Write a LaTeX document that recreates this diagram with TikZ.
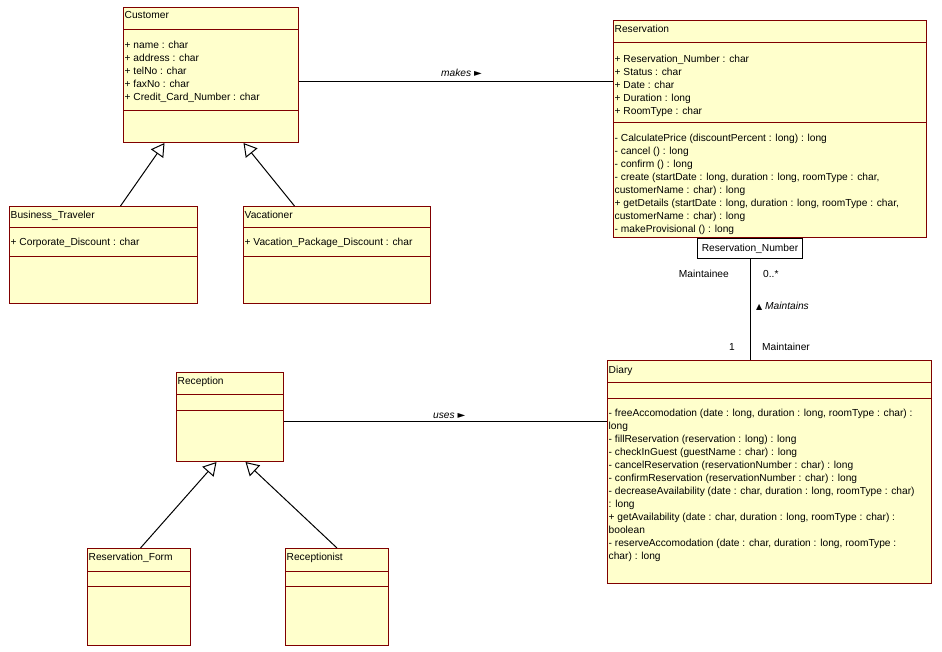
\documentclass[tikz,border=0pt]{standalone}
\usepackage{fontspec}
\setmainfont{Liberation Sans}
\newfontfamily\symbolfont{DejaVu Sans}
\usetikzlibrary{arrows.meta,positioning,calc}
\definecolor{umlyellow}{RGB}{255,255,204}
\definecolor{umlmaroon}{RGB}{128,0,0}

\begin{document}
\begin{tikzpicture}[
  x=1pt, y=-1pt,
  font=\fontsize{10.2}{13}\selectfont,
  classbox/.style={rectangle, draw=umlmaroon, fill=umlyellow, line width=1pt, anchor=north west, inner sep=0pt},
  sepline/.style={draw=umlmaroon, line width=1pt},
  classname/.style={anchor=base west, inner sep=0pt},
  members/.style={anchor=north west, inner sep=0pt, align=left},
  qualbox/.style={rectangle, draw=black, fill=white, line width=1pt, minimum width=105pt, minimum height=20pt, inner sep=0pt},
  assoc/.style={draw=black, line width=1pt},
  inherit/.style={-{Triangle[open, length=13pt, width=15pt]}, line width=1pt},
  rolelabel/.style={inner sep=0pt},
  assoclabel/.style={anchor=base west, inner sep=0pt, font=\fontsize{10.2}{13}\selectfont\itshape}
]
\useasboundingbox (0,0) rectangle (942,652);

% Class - Customer
\node[classbox, minimum width=175pt, minimum height=135pt] (customer) at (123,7) {};
\draw[sepline] ([yshift=-23pt]customer.north west) -- ([yshift=-23pt]customer.north east);
\draw[sepline] ([yshift=-104pt]customer.north west) -- ([yshift=-104pt]customer.north east);
\node[classname] (customer-name) at ([xshift=1.5pt, yshift=-12pt]customer.north west) {Customer};
\node[members] (customer-attr) at ([xshift=1.5pt, yshift=-31.9pt]customer.north west) {\strut+ name : char\\+ address : char\\+ telNo : char\\+ faxNo : char\\+ Credit\_Card\_Number : char};

% Class - Business_Traveler
\node[classbox, minimum width=188pt, minimum height=97pt] (traveler) at (9,206) {};
\draw[sepline] ([yshift=-22pt]traveler.north west) -- ([yshift=-22pt]traveler.north east);
\draw[sepline] ([yshift=-51pt]traveler.north west) -- ([yshift=-51pt]traveler.north east);
\node[classname] (traveler-name) at ([xshift=1.5pt, yshift=-12.5pt]traveler.north west) {Business\_Traveler};
\node[classname] (traveler-attr) at ([xshift=1.5pt, yshift=-40pt]traveler.north west) {+ Corporate\_Discount : char};

% Class - Vacationer
\node[classbox, minimum width=187pt, minimum height=97pt] (vacationer) at (243,206) {};
\draw[sepline] ([yshift=-22pt]vacationer.north west) -- ([yshift=-22pt]vacationer.north east);
\draw[sepline] ([yshift=-51pt]vacationer.north west) -- ([yshift=-51pt]vacationer.north east);
\node[classname] (vacationer-name) at ([xshift=1.5pt, yshift=-12.5pt]vacationer.north west) {Vacationer};
\node[classname] (vacationer-attr) at ([xshift=1.5pt, yshift=-40pt]vacationer.north west) {+ Vacation\_Package\_Discount : char};

% Class - Reservation
\node[classbox, minimum width=313pt, minimum height=217pt] (reservation) at (613,20) {};
\draw[sepline] ([yshift=-23pt]reservation.north west) -- ([yshift=-23pt]reservation.north east);
\draw[sepline] ([yshift=-103pt]reservation.north west) -- ([yshift=-103pt]reservation.north east);
\node[classname] (reservation-name) at ([xshift=1.5pt, yshift=-13pt]reservation.north west) {Reservation};
\node[members] (reservation-attr) at ([xshift=1.5pt, yshift=-32.9pt]reservation.north west) {\strut+ Reservation\_Number : char\\+ Status : char\\+ Date : char\\+ Duration : long\\+ RoomType : char};
\node[members] (reservation-ops) at ([xshift=1.5pt, yshift=-112.4pt]reservation.north west) {\strut- CalculatePrice (discountPercent : long) : long\\- cancel () : long\\- confirm () : long\\- create (startDate : long, duration : long, roomType : char,\\customerName : char) : long\\+ getDetails (startDate : long, duration : long, roomType : char,\\customerName : char) : long\\- makeProvisional () : long};

% Qualifier
\node[qualbox, anchor=north] (resnumber) at ([xshift=-20pt]reservation.south) {Reservation\_Number};

% Class - Diary
\node[classbox, minimum width=324pt, minimum height=223pt] (diary) at (607,360) {};
\draw[sepline] ([yshift=-22.5pt]diary.north west) -- ([yshift=-22.5pt]diary.north east);
\draw[sepline] ([yshift=-38pt]diary.north west) -- ([yshift=-38pt]diary.north east);
\node[classname] (diary-name) at ([xshift=1.5pt, yshift=-13pt]diary.north west) {Diary};
\node[members] (diary-ops) at ([xshift=1.5pt, yshift=-47.4pt]diary.north west) {\strut- freeAccomodation (date : long, duration : long, roomType : char) :\\long\\- fillReservation (reservation : long) : long\\- checkInGuest (guestName : char) : long\\- cancelReservation (reservationNumber : char) : long\\- confirmReservation (reservationNumber : char) : long\\- decreaseAvailability (date : char, duration : long, roomType : char)\\: long\\+ getAvailability (date : char, duration : long, roomType : char) :\\boolean\\- reserveAccomodation (date : char, duration : long, roomType :\\char) : long};

% Class - Reception
\node[classbox, minimum width=107pt, minimum height=89pt] (reception) at (176,372) {};
\draw[sepline] ([yshift=-22pt]reception.north west) -- ([yshift=-22pt]reception.north east);
\draw[sepline] ([yshift=-38pt]reception.north west) -- ([yshift=-38pt]reception.north east);
\node[classname] (reception-name) at ([xshift=1.5pt, yshift=-12pt]reception.north west) {Reception};

% Class - Reservation_Form
\node[classbox, minimum width=103pt, minimum height=97pt] (resform) at (87,548) {};
\draw[sepline] ([yshift=-23.5pt]resform.north west) -- ([yshift=-23.5pt]resform.north east);
\draw[sepline] ([yshift=-38.5pt]resform.north west) -- ([yshift=-38.5pt]resform.north east);
\node[classname] (resform-name) at ([xshift=1.5pt, yshift=-12.5pt]resform.north west) {Reservation\_Form};

% Class - Receptionist
\node[classbox, minimum width=103pt, minimum height=97pt] (receptionist) at (285,548) {};
\draw[sepline] ([yshift=-23.5pt]receptionist.north west) -- ([yshift=-23.5pt]receptionist.north east);
\draw[sepline] ([yshift=-38.5pt]receptionist.north west) -- ([yshift=-38.5pt]receptionist.north east);
\node[classname] (receptionist-name) at ([xshift=1.5pt, yshift=-12.5pt]receptionist.north west) {Receptionist};

% Associations
\draw[assoc] ([yshift=-6.5pt]customer.east) -- ([yshift=-6.5pt]customer.east -| reservation.west);
\draw[assoc] ([yshift=-4.5pt]reception.east) -- ([yshift=-4.5pt]reception.east -| diary.west);
\draw[assoc] (resnumber.south) -- (resnumber.south |- diary.north);

% Generalizations
\draw[inherit] ([xshift=17pt]traveler.north) -- ([xshift=-46.5pt]customer.south);
\draw[inherit] ([xshift=-42.5pt]vacationer.north) -- ([xshift=32.5pt]customer.south);
\draw[inherit] ([xshift=1.5pt]resform.north) -- ([xshift=-13.5pt]reception.south);
\draw[inherit] (receptionist.north) -- ([xshift=15.5pt]reception.south);

% Labels
\node[assoclabel] (makes) at (441,77) {makes {\upshape\symbolfont\fontsize{10}{10}\selectfont ►}};
\node[assoclabel] (uses) at (433,418) {uses {\upshape\symbolfont\fontsize{10}{10}\selectfont ►}};
\node[assoclabel] (maintains) at (756,309) {{\upshape\symbolfont\fontsize{8}{8}\selectfont ▲} Maintains};
\node[rolelabel, anchor=base east] (maintainee) at (729,277) {Maintainee};
\node[rolelabel, anchor=base west] (many) at (763,277) {0..*};
\node[rolelabel, anchor=base east] (one) at (735,350) {1};
\node[rolelabel, anchor=base west] (maintainer) at (762,350) {Maintainer};

\end{tikzpicture}
\end{document}
